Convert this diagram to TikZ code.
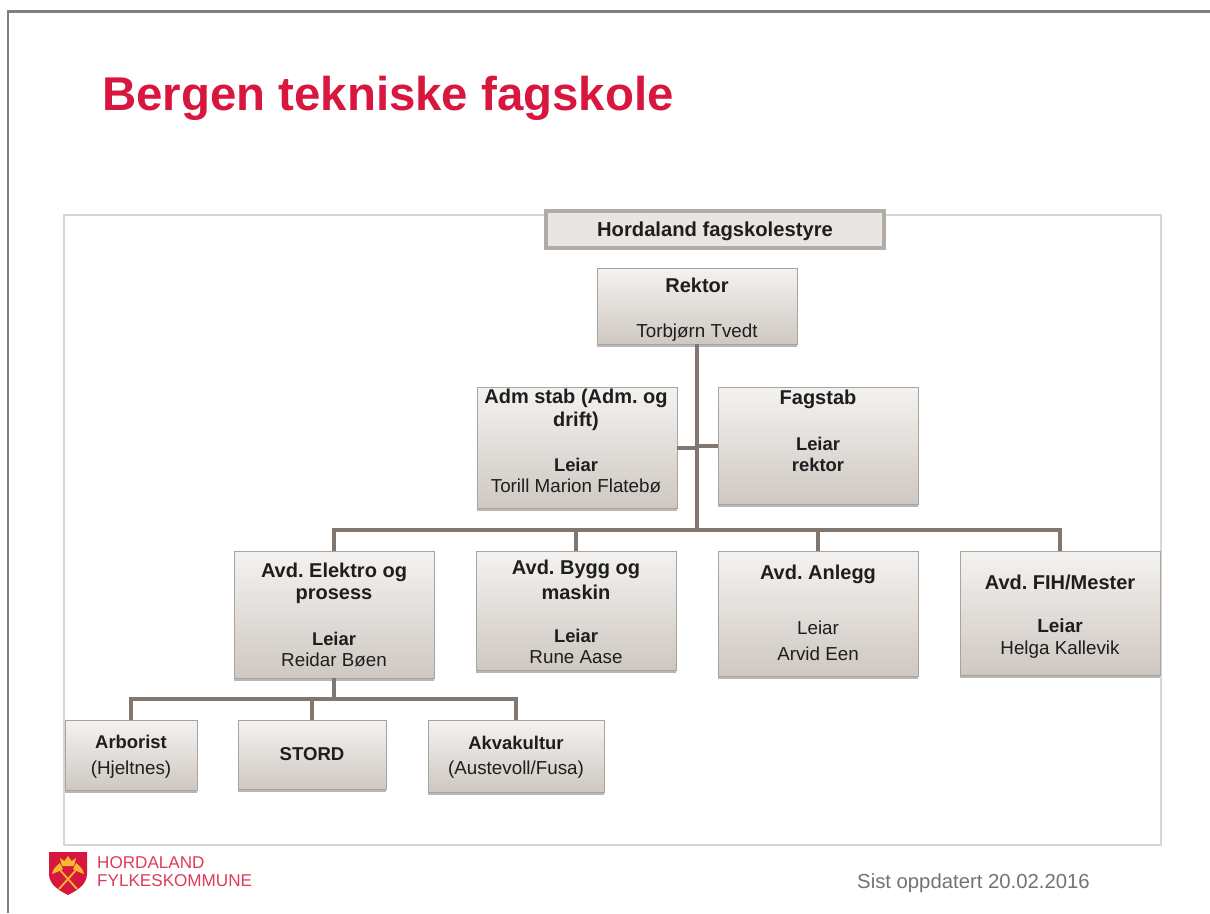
\documentclass[tikz,border=0pt]{standalone}
\usepackage{fontspec}
\setmainfont{Liberation Sans}
\usetikzlibrary{shadows,fadings}
\definecolor{boxline}{HTML}{A9A39D}
\definecolor{boxtop}{HTML}{F4F2F0}
\definecolor{boxbot}{HTML}{CFC8C2}
\definecolor{conn}{HTML}{7F7770}
\definecolor{crimson}{HTML}{D8173F}
\definecolor{framec}{HTML}{D6D6D6}
\definecolor{txt}{HTML}{1E1E1E}
\definecolor{gold}{HTML}{F5B82E}
\tikzset{
  x=1pt,y=-1pt,
  box/.style={draw=boxline,line width=1pt,top color=boxtop,middle color=boxtop!70!boxbot,bottom color=boxbot,
    drop shadow={shadow xshift=0pt,shadow yshift=-2.5pt,opacity=.4,fill=black!70},
    anchor=north west,inner sep=0pt,outer sep=0pt},
  boxsize/.style 2 args={minimum width=#1*1pt,minimum height=#2*1pt},
  captxt/.style={font=\fontsize{20}{22}\selectfont\bfseries,text=txt,inner sep=0pt},
  subtxt/.style={font=\fontsize{18.8}{21}\selectfont,text=txt,inner sep=0pt},
  subbold/.style={font=\fontsize{18.4}{21}\selectfont\bfseries,text=txt,inner sep=0pt},
  con/.style={draw=conn,line width=4pt},
  logotext/.style={font=\fontsize{17.1}{19}\selectfont,text=crimson!85,inner sep=0pt,anchor=west},
}
\frenchspacing
\begin{document}
\begin{tikzpicture}
\useasboundingbox (0,0) rectangle (1210,913);
\fill[white] (0,0) rectangle (1210,913);
% slide edge
\draw[gray,line width=2.5pt] (8,913) -- (8,11.5) -- (1210,11.5);
% title
\node[font=\fontsize{47.4}{50}\selectfont\bfseries,text=crimson,inner sep=0pt,anchor=west] (title) at (102,98) {Bergen tekniske fagskole};
% frame
\draw[framec,line width=1.3pt] (64,215) rectangle (1161,845);

% boxes
\node[anchor=north west,inner sep=0pt,outer sep=0pt,minimum width=338pt,minimum height=37pt,draw=boxline!90,line width=3.5pt,fill=boxtop!70!boxbot] (styre) at (546,211) {};
\node[captxt,font=\fontsize{20.2}{22}\selectfont\bfseries] (styreT) at (715,231) {Hordaland fagskolestyre};

\node[box,boxsize={200}{76}] (rektor) at (597,268) {};
\node[box,boxsize={200}{121}] (adm) at (477,387) {};
\node[box,boxsize={200}{117}] (fag) at (718,387) {};
\node[box,boxsize={200}{127}] (elektro) at (234,551) {};
\node[box,boxsize={200}{119}] (bygg) at (476,551) {};
\node[box,boxsize={200}{125}] (anlegg) at (718,551) {};
\node[box,boxsize={200}{124}] (fih) at (960,551) {};
\node[box,boxsize={132}{70}] (arb) at (65,720) {};
\node[box,boxsize={148}{69}] (stord) at (238,720) {};
\node[box,boxsize={176}{72}] (akva) at (428,720) {};

% connectors
\coordinate (bus) at (697,530);
\coordinate (bus2) at (334,699);
\draw[con] (rektor.south) -- (bus);
\draw[con] (adm.east) -- (adm.east -| rektor.south);
\draw[con] (fag.west) -- (fag.west -| rektor.south);
\draw[con] (bus) -| (elektro.north);
\draw[con] (bus) -| (bygg.north);
\draw[con] (bus) -| (anlegg.north);
\draw[con] (bus) -| (fih.north);
\draw[con] (elektro.south) -- (bus2);
\draw[con] (bus2) -| (arb.north);
\draw[con] (bus2) -| (stord.north);
\draw[con] (bus2) -| (akva.north);

% texts
\node[captxt] (t1) at (697,285) {Rektor};
\node[subtxt] (t2) at (697,333) {Torbjørn Tvedt};
\node[captxt] (t3) at (576,398) {Adm stab (Adm. og};
\node[captxt] (t4) at (576,421) {drift)};
\node[subbold] (t5) at (576,465) {Leiar};
\node[subtxt] (t6) at (576,486) {Torill Marion Flatebø};
\node[captxt] (t7) at (818,399) {Fagstab};
\node[subbold] (t8) at (818,444) {Leiar};
\node[subbold] (t9) at (818,465) {rektor};
\node[captxt] (t10) at (334,572) {Avd. Elektro og};
\node[captxt] (t11) at (334,596) {prosess};
\node[subbold] (t12) at (334,639) {Leiar};
\node[subtxt] (t13) at (334,660) {Reidar Bøen};
\node[captxt] (t14) at (576,569) {Avd. Bygg og};
\node[captxt] (t15) at (576,592) {maskin};
\node[subbold] (t16) at (576,636) {Leiar};
\node[subtxt] (t17) at (576,657) {Rune Aase};
\node[captxt] (t18) at (818,574) {Avd. Anlegg};
\node[subtxt] (t19) at (818,628) {Leiar};
\node[subtxt] (t20) at (818,654) {Arvid Een};
\node[captxt] (t21) at (1060,582) {Avd. FIH/Mester};
\node[captxt,font=\fontsize{19}{21}\selectfont\bfseries] (t22) at (1060,626) {Leiar};
\node[subtxt] (t23) at (1060,650) {Helga Kallevik};
\node[subbold] (t24) at (131,742) {Arborist};
\node[subtxt] (t25) at (131,770) {(Hjeltnes)};
\node[captxt,font=\fontsize{18.6}{21}\selectfont\bfseries] (t26) at (312,754) {STORD};
\node[subbold] (t27) at (516,743) {Akvakultur};
\node[subtxt] (t28) at (516,770) {(Austevoll/Fusa)};

% footer
\node[font=\fontsize{20.3}{22}\selectfont,text=black!55,inner sep=0pt,anchor=west] (date) at (857,883) {Sist oppdatert 20.02.2016};
% logo
\fill[crimson] (49,852) -- (87,852) -- (87,874) .. controls (87,885) and (76,891) .. (68,895) .. controls (60,891) and (49,885) .. (49,874) -- cycle;
\draw[gold,line width=1.8pt] (59,869) -- (77,889) (77,869) -- (59,889);
\fill[gold] (52,874) .. controls (53,869) and (56,866) .. (60,863) -- (63,869) -- (57,872) -- cycle;
\fill[gold] (84,874) .. controls (83,869) and (80,866) .. (76,863) -- (73,869) -- (79,872) -- cycle;
\fill[gold] (62,866) -- (60,858) -- (64.5,861) -- (68,856) -- (71.5,861) -- (76,858) -- (74,866) -- cycle;
\node[logotext] (l1) at (97,863) {HORDALAND};
\node[logotext] (l2) at (97,881) {FYLKESKOMMUNE};
\end{tikzpicture}
\end{document}
